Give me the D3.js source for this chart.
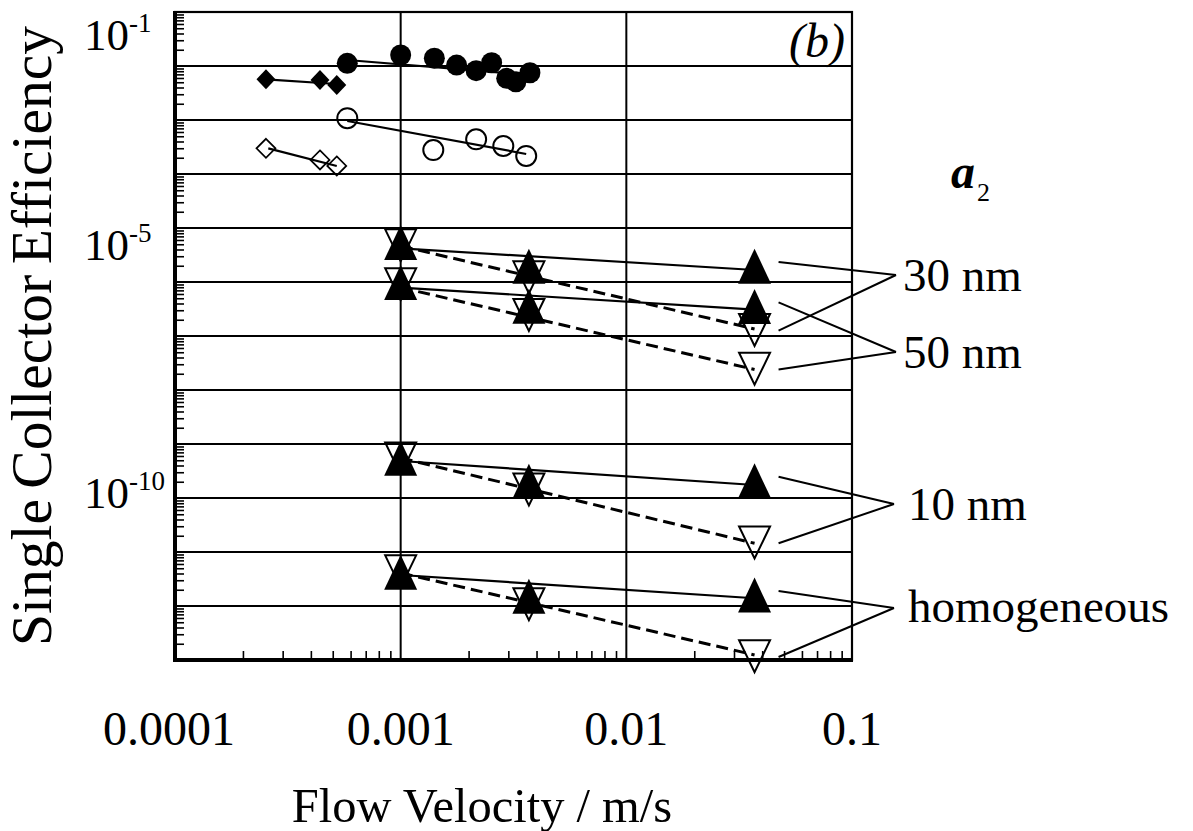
<!DOCTYPE html>
<html>
<head>
<meta charset="utf-8">
<script src="https://cdn.jsdelivr.net/npm/d3@7"></script>
<style>
  body { margin: 0; background: #fff; }
  svg { display: block; }
</style>
</head>
<body>
<svg id="chart" width="1193" height="831"></svg>
<script>
// ---- tick labels ----
const xTickValues = [1e-4, 1e-3, 1e-2, 1e-1];
const xTickLabels = ["0.0001", "0.001", "0.01", "0.1"];
const yTickExponents = [-1, -5, -10];

// ---- measured points (velocity m/s, efficiency) ----
const filledDiamondV = [2.53e-4, 4.39e-4, 5.21e-4];
const filledDiamondE = [5.67e-3, 5.5e-3, 4.45e-3];
const openDiamondV = [2.53e-4, 4.39e-4, 5.21e-4];
const openDiamondE = [2.99e-4, 1.82e-4, 1.41e-4];
const filledCircleV = [5.8e-4, 1.0e-3, 1.41e-3, 1.77e-3, 2.16e-3, 2.53e-3, 2.95e-3, 3.24e-3, 3.74e-3];
const filledCircleE = [1.12e-2, 1.6e-2, 1.39e-2, 1.04e-2, 8.2e-3, 1.15e-2, 5.9e-3, 5.1e-3, 7.5e-3];
const openCircleV = [5.8e-4, 1.395e-3, 2.16e-3, 2.85e-3, 3.6e-3];
const openCircleE = [1.08e-3, 2.78e-4, 4.39e-4, 3.3e-4, 2.16e-4];

// trend lines through the measured sets
const filledDiamondFit = [[2.53e-4, 5.67e-3], [5.21e-4, 4.64e-3]];
const openDiamondFit = [[2.59e-4, 2.99e-4], [5.21e-4, 1.41e-4]];
const filledCircleFit = [[5.8e-4, 1.29e-2], [3.74e-3, 6.8e-3]];
const openCircleFit = [[5.8e-4, 9.6e-4], [3.6e-3, 2.35e-4]];

// ---- simulated collector efficiency for asperity size a2 ----
const simVelocity = [0.001, 0.0037, 0.037];
const groupNames = ["30 nm", "50 nm", "10 nm", "homogeneous"];
const filled30 = [4.2e-6, 1.53e-6, 1.53e-6];
const filled50 = [7.6e-7, 2.76e-7, 2.73e-7];
const filled10 = [4.26e-10, 1.6e-10, 1.62e-10];
const filledHom = [3.3e-12, 1.18e-12, 1.24e-12];
const open30 = [6.0e-6, 1.53e-6, 1.62e-7];
const open50 = [1.14e-6, 3.07e-7, 3.1e-8];
const open10 = [6.8e-10, 1.8e-10, 1.88e-11];
const openHom = [5.5e-12, 1.35e-12, 1.47e-13];

// solid (filled) and dashed (open) trend lines
const solid30 = [[0.001, 4.2e-6], [0.037, 1.67e-6]];
const dashed30 = [[0.001, 4.64e-6], [0.037, 1.35e-7]];
const solid50 = [[0.001, 7.9e-7], [0.037, 3.07e-7]];
const dashed50 = [[0.001, 7.9e-7], [0.037, 2.4e-8]];
const solid10 = [[0.001, 4.84e-10], [0.037, 1.74e-10]];
const dashed10 = [[0.001, 5.5e-10], [0.037, 1.45e-11]];
const solidHom = [[0.001, 3.75e-12], [0.037, 1.39e-12]];
const dashedHom = [[0.001, 4.1e-12], [0.037, 1.24e-13]];

// ---- layout ----
const FONT = "'Liberation Serif', 'Times New Roman', Times, Tinos, 'Nimbus Roman', 'DejaVu Serif', serif";
const svg = d3.select("#chart");
const L = 175, R = 852, T = 12, B = 660;
const x = d3.scaleLog().domain([1e-4, 1e-1]).range([L, R]);
const y = d3.scaleLog().domain([1e-13, 1e-1]).range([B, T]);

const zip = (a, b) => a.map((v, i) => [v, b[i]]);
const label = (sel) => sel.append("text").attr("font-family", FONT).attr("fill", "#000");

// grid
const decadesY = d3.range(-12, -1).map(e => Math.pow(10, e));
svg.append("g").selectAll("line").data(decadesY).join("line")
  .attr("x1", L).attr("x2", R)
  .attr("y1", d => y(d)).attr("y2", d => y(d))
  .attr("stroke", "#000").attr("stroke-width", 2);
svg.append("g").selectAll("line").data([1e-3, 1e-2]).join("line")
  .attr("x1", d => x(d)).attr("x2", d => x(d))
  .attr("y1", T).attr("y2", B)
  .attr("stroke", "#000").attr("stroke-width", 2);

// minor ticks (inward)
const minorY = [];
for (let e = -13; e < -1; e++) for (let m = 2; m <= 9; m++) minorY.push(m * Math.pow(10, e));
svg.append("g").attr("transform", `translate(${L},0)`)
  .call(d3.axisLeft(y).tickValues(minorY).tickSize(-9).tickFormat(""))
  .call(g => g.select(".domain").remove())
  .call(g => g.selectAll("line").attr("stroke", "#000").attr("stroke-width", 1.6));
const minorX = [];
for (let e = -4; e < -1; e++) for (let m = 2; m <= 9; m++) minorX.push(m * Math.pow(10, e));
svg.append("g").attr("transform", `translate(0,${B})`)
  .call(d3.axisBottom(x).tickValues(minorX).tickSize(-9).tickFormat(""))
  .call(g => g.select(".domain").remove())
  .call(g => g.selectAll("line").attr("stroke", "#000").attr("stroke-width", 1.6));

// frame
svg.append("rect").attr("x", L).attr("y", T).attr("width", R - L).attr("height", B - T)
  .attr("fill", "none").attr("stroke", "#000").attr("stroke-width", 2.2);
svg.append("line").attr("x1", L).attr("x2", L).attr("y1", T - 1).attr("y2", B + 2)
  .attr("stroke", "#000").attr("stroke-width", 4);
svg.append("line").attr("x1", L - 2).attr("x2", R + 1).attr("y1", B).attr("y2", B)
  .attr("stroke", "#000").attr("stroke-width", 4);

// trend lines
const line = d3.line().x(d => x(d[0])).y(d => y(d[1]));
const solidLines = [filledDiamondFit, openDiamondFit, filledCircleFit, openCircleFit, solid30, solid50, solid10, solidHom];
const dashedLines = [dashed30, dashed50, dashed10, dashedHom];
svg.append("g").selectAll("path").data(solidLines).join("path")
  .attr("d", line).attr("fill", "none").attr("stroke", "#000").attr("stroke-width", 2.2);
svg.append("g").selectAll("path").data(dashedLines).join("path")
  .attr("d", line).attr("fill", "none").attr("stroke", "#000").attr("stroke-width", 3)
  .attr("stroke-dasharray", "12,6");

// marker shapes
const upTri = (w, h) => `M0,${-2 * h / 3}L${w / 2},${h / 3}L${-w / 2},${h / 3}Z`;
const downTri = (w, h) => `M${-w / 2},${-h / 3}L${w / 2},${-h / 3}L0,${2 * h / 3}Z`;
const diamond = (w, h) => `M0,${-h / 2}L${w / 2},0L0,${h / 2}L${-w / 2},0Z`;

function markers(points, path, filled, sw) {
  svg.append("g").selectAll("path").data(points).join("path")
    .attr("transform", d => `translate(${x(d[0])},${y(d[1])})`)
    .attr("d", path)
    .attr("fill", filled ? "#000" : "none")
    .attr("stroke", "#000").attr("stroke-width", sw);
}

// open markers
markers(zip(openDiamondV, openDiamondE), diamond(19, 19), false, 1.7);
svg.append("g").selectAll("circle").data(zip(openCircleV, openCircleE)).join("circle")
  .attr("cx", d => x(d[0])).attr("cy", d => y(d[1])).attr("r", 10)
  .attr("fill", "none").attr("stroke", "#000").attr("stroke-width", 2);
[open30, open50, open10, openHom].forEach(s => markers(zip(simVelocity, s), downTri(31, 32), false, 2));

// filled markers
markers(zip(filledDiamondV, filledDiamondE), diamond(19, 20), true, 0);
svg.append("g").selectAll("circle").data(zip(filledCircleV, filledCircleE)).join("circle")
  .attr("cx", d => x(d[0])).attr("cy", d => y(d[1])).attr("r", 10.5).attr("fill", "#000");
[filled30, filled50, filled10, filledHom].forEach(s => markers(zip(simVelocity, s), upTri(33, 35), true, 0));

// x tick labels
xTickValues.forEach((v, i) => {
  label(svg).attr("x", x(v) - (i === 0 ? 6 : 0)).attr("y", 745).attr("text-anchor", "middle")
    .attr("font-size", 48).text(xTickLabels[i]);
});

// y tick labels (powers of ten)
const yLabelNudge = { "-1": 38, "-5": 32, "-10": 10 };
yTickExponents.forEach(e => {
  const t = label(svg).attr("x", 84).attr("y", y(Math.pow(10, e)) + yLabelNudge[e]).attr("font-size", 45);
  t.append("tspan").text("10");
  t.append("tspan").attr("dy", -18).attr("font-size", 27).text("-" + Math.abs(e));
});

// axis titles
label(svg).attr("x", 482).attr("y", 822).attr("text-anchor", "middle")
  .attr("font-size", 48.5).text("Flow Velocity / m/s");
label(svg).attr("transform", "translate(51,336) rotate(-90)")
  .attr("text-anchor", "middle").attr("font-size", 57.5).attr("word-spacing", -4)
  .text("Single Collector Efficiency");

// panel tag
label(svg).attr("x", 845).attr("y", 57).attr("text-anchor", "end")
  .attr("font-size", 48).attr("font-style", "italic").text("(b)");

// legend heading a2
const a2 = label(svg).attr("x", 951).attr("y", 188).attr("font-size", 48)
  .attr("font-style", "italic").attr("font-weight", "bold");
a2.append("tspan").text("a");
a2.append("tspan").attr("dy", 13).attr("dx", 2).attr("font-size", 26)
  .attr("font-style", "normal").attr("font-weight", "normal").text("2");

// group labels with leader lines to the high-velocity markers
const groupFilled = [filled30, filled50, filled10, filledHom];
const groupOpen = [open30, open50, open10, openHom];
const labelPos = [
  { ax: 896, ay: 275, tx: 903, ty: 291 },
  { ax: 896, ay: 352, tx: 903, ty: 368 },
  { ax: 894, ay: 504, tx: 908, ty: 520 },
  { ax: 894, ay: 608, tx: 908, ty: 622 }
];
const vLast = simVelocity[simVelocity.length - 1];
groupNames.forEach((name, i) => {
  const p = labelPos[i];
  const sx = x(vLast) + 24;
  const ends = [y(groupFilled[i][2]) - 10, y(groupOpen[i][2]) + 6];
  ends.forEach(ey => {
    svg.append("line").attr("x1", sx).attr("y1", ey).attr("x2", p.ax).attr("y2", p.ay)
      .attr("stroke", "#000").attr("stroke-width", 2);
  });
  label(svg).attr("x", p.tx).attr("y", p.ty).attr("font-size", 47).text(name);
});
</script>
</body>
</html>
